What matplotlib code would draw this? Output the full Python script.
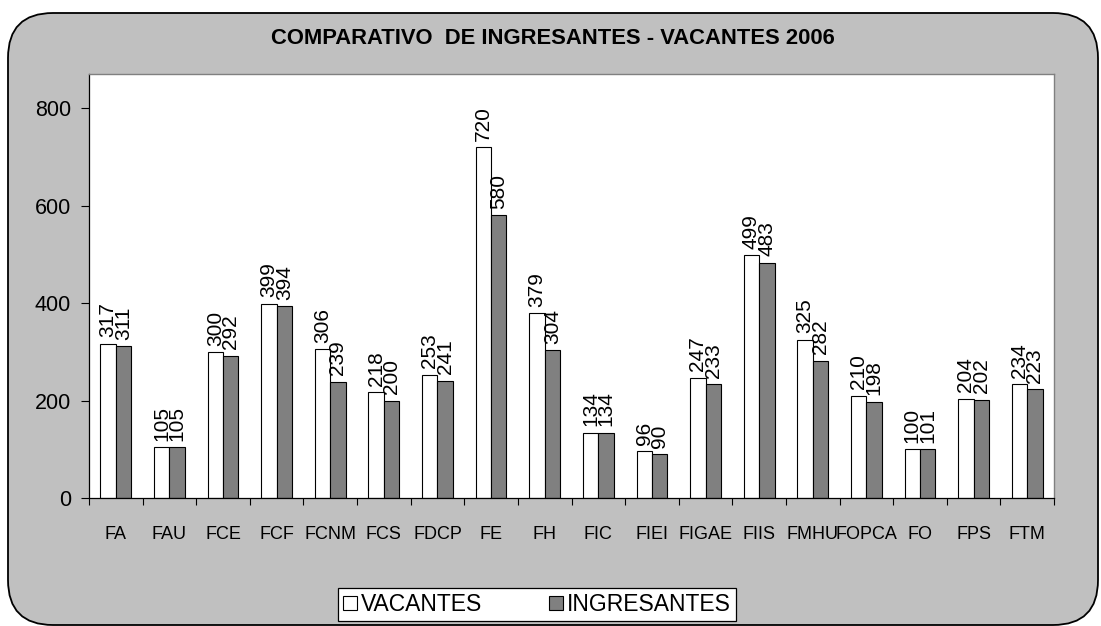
import matplotlib
matplotlib.use("Agg")
import matplotlib.pyplot as plt
import numpy as np
from matplotlib.patches import FancyBboxPatch, Patch
from matplotlib.transforms import IdentityTransform

categories = ["FA", "FAU", "FCE", "FCF", "FCNM", "FCS", "FDCP", "FE", "FH", "FIC",
              "FIEI", "FIGAE", "FIIS", "FMHU", "FOPCA", "FO", "FPS", "FTM"]
vacantes = [317, 105, 300, 399, 306, 218, 253, 720, 379, 134, 96, 247, 499, 325, 210, 100, 204, 234]
ingresantes = [311, 105, 292, 394, 239, 200, 241, 580, 304, 134, 90, 233, 483, 282, 198, 101, 202, 223]
yticks = [0, 200, 400, 600, 800]
series_names = ["VACANTES", "INGRESANTES"]
title = "COMPARATIVO  DE INGRESANTES - VACANTES 2006"

plt.rcParams['font.family'] = ['Liberation Sans', 'DejaVu Sans']

W, H = 1101, 626
fig = plt.figure(figsize=(W / 100, H / 100), dpi=100, facecolor="white")

# rounded gray background
box = FancyBboxPatch((8, 1), 1090, 612, boxstyle="round,pad=0,rounding_size=45",
                     transform=IdentityTransform(), facecolor="#C0C0C0",
                     edgecolor="black", linewidth=1.3, zorder=-5)
fig.patches.append(box)

ax = fig.add_axes([89 / W, 1 - 498 / H, (1054 - 89) / W, (498 - 74) / H])
ax.set_zorder(2)
ax.set_facecolor("white")
n = len(categories)
x = np.arange(n)
bw = 0.287
b1 = ax.bar(x - bw / 2, vacantes, bw, color="white", edgecolor="black", linewidth=0.8)
b2 = ax.bar(x + bw / 2, ingresantes, bw, color="#808080", edgecolor="black", linewidth=0.8)

for bars, vals in ((b1, vacantes), (b2, ingresantes)):
    for r, v in zip(bars, vals):
        ax.annotate(str(v), (r.get_x() + r.get_width() / 2, r.get_height()),
                    xytext=(0, 4.5), textcoords="offset points", rotation=90,
                    ha="center", va="bottom", fontsize=15)

ax.set_xlim(-0.5, n - 0.5)
ax.set_ylim(0, 870)
ax.set_yticks(yticks)
ax.tick_params(axis="y", labelsize=15.5, length=6, width=0.8, pad=7)

ax.set_xticks(np.arange(n + 1) - 0.5)
ax.set_xticklabels([])
ax.tick_params(axis="x", which="major", length=5, width=0.8, direction="out")
ax.set_xticks(x, minor=True)
ax.set_xticklabels(categories, minor=True, family=['Liberation Sans Narrow', 'Liberation Sans'], fontsize=13)
ax.tick_params(axis="x", which="minor", length=0, pad=20)

for s in ("top", "right"):
    ax.spines[s].set_color("#808080")
    ax.spines[s].set_linewidth(1.0)
for s in ("left", "bottom"):
    ax.spines[s].set_color("black")
    ax.spines[s].set_linewidth(0.9)

fig.text(553 / W, 1 - 38 / H, title, ha="center", va="center", fontsize=15.8, fontweight="bold")

handles = [Patch(facecolor="white", edgecolor="black", linewidth=0.8),
           Patch(facecolor="#808080", edgecolor="black", linewidth=0.8)]
leg = fig.legend(handles, series_names, loc="center",
                 bbox_to_anchor=(537 / W, 1 - 604.5 / H), ncol=2, fontsize=16.5,
                 frameon=True, fancybox=False, edgecolor="black", framealpha=1,
                 handlelength=0.6, handleheight=0.6, handletextpad=0.2,
                 columnspacing=2.9, borderpad=0.2, borderaxespad=0)
leg.get_frame().set_linewidth(0.9)

fig.savefig("out.png", dpi=100, facecolor="white")
